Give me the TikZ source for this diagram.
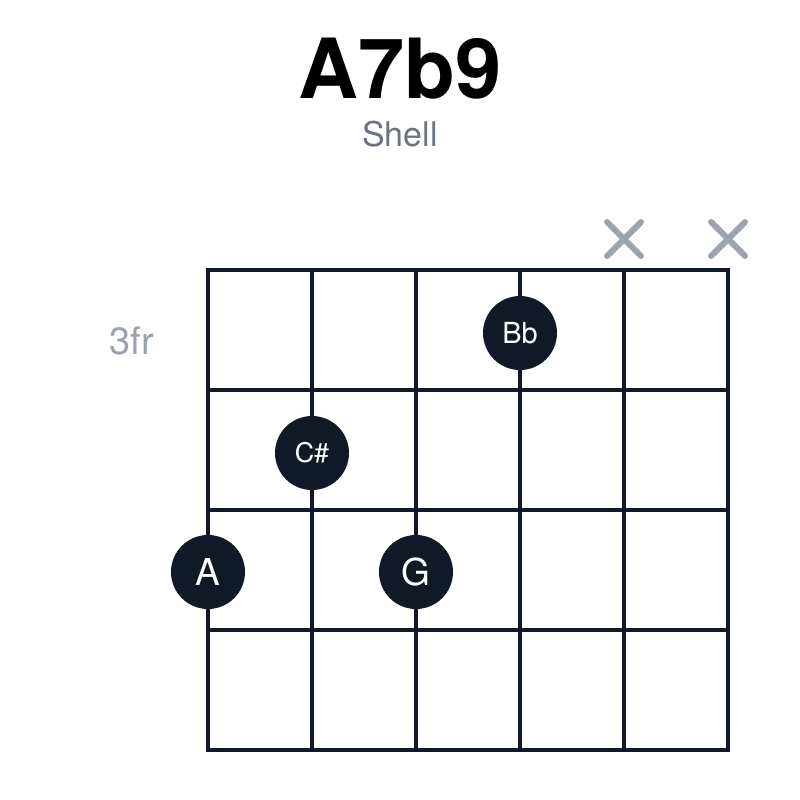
\documentclass[tikz,border=0pt]{standalone}
\usepackage{fontspec}
\setmainfont{TeX Gyre Heros}
\definecolor{ink}{HTML}{111827}
\definecolor{mute}{HTML}{9CA3AF}
\definecolor{subgray}{HTML}{6B7280}
\tikzset{
  fretline/.style={line width=3.5pt,ink,line cap=rect},
  mutemark/.style={line width=6pt,mute,line cap=round},
  notedot/.style={circle,fill=ink,minimum size=74pt,inner sep=0pt,text=white},
}
\begin{document}
\begin{tikzpicture}[x=1pt,y=-1pt]
                \useasboundingbox (0,0) rectangle (800,800);

                \node (title) at (400,69) {\fontsize{83}{83}\selectfont\bfseries A7b9};
                \node [text=subgray] (shell) at (400,134) {\fontsize{34}{34}\selectfont Shell};
                \node [text=mute] (fret) at (132,341) {\fontsize{38}{38}\selectfont 3fr};

                \coordinate (O) at (208,270);

                % frets
                \draw [fretline] (O)--++(520,0);
                \draw [fretline] ([shift={(0,120)}]O)--++(520,0);
                \draw [fretline] ([shift={(0,240)}]O)--++(520,0);
                \draw [fretline] ([shift={(0,360)}]O)--++(520,0);
                \draw [fretline] ([shift={(0,480)}]O)--++(520,0);

                % strings
                \draw [fretline] (O)--++(0,480);
                \draw [fretline] ([shift={(104,0)}]O)--++(0,480);
                \draw [fretline] ([shift={(208,0)}]O)--++(0,480);
                \draw [fretline] ([shift={(312,0)}]O)--++(0,480);
                \draw [fretline] ([shift={(416,0)}]O)--++(0,480);
                \draw [fretline] ([shift={(520,0)}]O)--++(0,480);

                % muted strings
                \coordinate (X5) at (624,239);
                \coordinate (X6) at (728,239);
                \draw [mutemark] ([shift={(-17,-17)}]X5)--++(34,34);
                \draw [mutemark] ([shift={(-17,17)}]X5)--++(34,-34);
                \draw [mutemark] ([shift={(-17,-17)}]X6)--++(34,34);
                \draw [mutemark] ([shift={(-17,17)}]X6)--++(34,-34);

                % fingers
                \node [notedot] (Bb) at (520,333) {\fontsize{29}{29}\selectfont Bb};
                \node [notedot] (Cs) at (312,453) {\fontsize{27}{27}\selectfont C\#};
                \node [notedot] (A) at (208,572) {\fontsize{37}{37}\selectfont A};
                \node [notedot] (G) at (416,572) {\fontsize{37}{37}\selectfont G};
\end{tikzpicture}
\end{document}
